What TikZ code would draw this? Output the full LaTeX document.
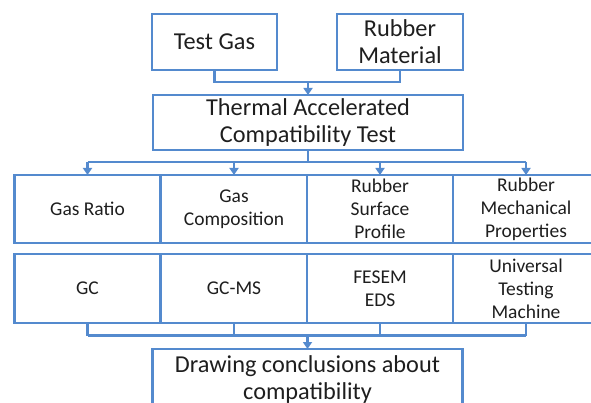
\documentclass[tikz,border=0pt]{standalone}
\usepackage{fontspec}
\setmainfont{Carlito}
\usetikzlibrary{arrows.meta}
\definecolor{edge}{RGB}{84,138,206}
\definecolor{ink}{RGB}{30,30,30}
\begin{document}
\begin{tikzpicture}[x=1pt,y=-1pt,
  box/.style={draw=edge, line width=2.4pt, inner sep=0pt, outer sep=0pt, align=center, text=ink},
  big/.style={box, font=\fontsize{24.3}{27}\selectfont},
  cell/.style={box, font=\fontsize{19.5}{23}\selectfont, minimum width=146pt},
  link/.style={draw=edge, line width=2.4pt},
  arr/.style={link, -{Triangle[width=9pt,length=7pt]}}]
\useasboundingbox (0,0) rectangle (591,403);
\clip (0,0) rectangle (591,403);

% top
\node[big, minimum width=125pt, minimum height=56pt] (gas) at (214.5,42) {Test Gas};
\node[big, minimum width=126pt, minimum height=56pt] (rub) at (400,42) {Rubber\\Material};
\node[big, minimum width=310pt, minimum height=55pt] (tac) at (308,122.5) {Thermal Accelerated\\Compatibility Test};

% row 1
\node[cell, minimum height=68pt] (r1a) at (87.5,209) {Gas Ratio};
\node[cell, minimum height=68pt] (r1b) at (234,209) {Gas\\Composition};
\node[cell, minimum height=68pt] (r1c) at (380,209) {Rubber\\Surface\\Profile};
\node[cell, minimum height=68pt] (r1d) at (526,209) {Rubber\\Mechanical\\Properties};

% row 2
\node[cell, minimum height=69pt] (r2a) at (87.5,288.5) {GC};
\node[cell, minimum height=69pt] (r2b) at (234,288.5) {GC-MS};
\node[cell, minimum height=69pt] (r2c) at (380,288.5) {FESEM\\EDS};
\node[cell, minimum height=69pt] (r2d) at (526,288.5) {Universal\\Testing\\Machine};

% bottom
\node[big, minimum width=310pt, minimum height=61pt] (fin) at (307.5,379.5) {Drawing conclusions about\\compatibility};

% connectors top
\path (tac.north) ++(0,-13) coordinate (j1);
\draw[link] (gas.south) |- (j1) -| (rub.south);
\draw[arr] (j1) -- (tac.north);

% distribution
\path (tac.south) ++(0,12) coordinate (j2);
\draw[link] (tac.south) -- (j2);
\draw[link] (j2 -| r1a) -- (j2 -| r1d);
\foreach \n in {r1a,r1b,r1c,r1d} \draw[arr] (j2 -| \n) -- (\n.north);

% collection
\path (r2a.south) ++(0,12.5) coordinate (j3);
\foreach \n in {r2a,r2b,r2c,r2d} \draw[link] (\n.south) -- (\n.south |- j3);
\draw[link] (r2a.south |- j3) -- (r2d.south |- j3);
\draw[arr] (j3 -| fin.north) -- (fin.north);
\end{tikzpicture}
\end{document}
